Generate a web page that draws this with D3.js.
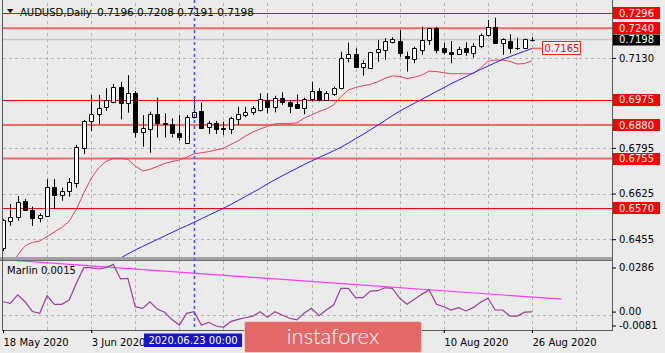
<!DOCTYPE html>
<html>
<head>
<meta charset="utf-8">
<script src="https://cdn.jsdelivr.net/npm/d3@7"></script>
<style>
body { margin: 0; background: #ebebeb; }
svg { display: block; font-family: "DejaVu Sans", sans-serif; }
</style>
</head>
<body>
<div id="chart"></div>
<script>
// AUDUSD daily, 18 May 2020 .. 26 Aug 2020 (one value per bar)
const opens = [0.6422,0.6522,0.6537,0.6597,0.6564,0.6533,0.6541,0.6650,0.6620,0.6636,
    0.6663,0.6793,0.6896,0.6921,0.6946,0.6967,0.7021,0.6961,0.6998,0.6855,
    0.6865,0.6921,0.6889,0.6884,0.6851,0.6814,0.6909,0.6932,0.6872,0.6887,
    0.6870,0.6865,0.6901,0.6917,0.6927,0.6936,0.6973,0.6948,0.6982,0.6967,
    0.6958,0.6942,0.6977,0.7008,0.6973,0.6994,0.7017,0.7128,0.7143,0.7095,
    0.7091,0.7153,0.7159,0.7190,0.7193,0.7138,0.7126,0.7159,0.7197,0.7240,
    0.7168,0.7151,0.7143,0.7166,0.7147,0.7175,0.7215,0.7246,0.7184,0.7194,
    0.7168,0.7168,0.7196];
const highs = [0.6530,0.6586,0.6616,0.6604,0.6576,0.6551,0.6678,0.6679,0.6647,0.6682,
    0.6806,0.6899,0.6992,0.6992,0.7017,0.7033,0.7041,0.7066,0.7007,0.6917,
    0.6930,0.6982,0.6924,0.6905,0.6917,0.6917,0.6976,0.6963,0.6895,0.6895,
    0.6893,0.6911,0.6948,0.6948,0.6951,0.6998,0.6998,0.6989,0.7002,0.6973,
    0.6994,0.6982,0.7041,0.7017,0.7007,0.7023,0.7153,0.7187,0.7166,0.7122,
    0.7153,0.7197,0.7203,0.7207,0.7234,0.7153,0.7172,0.7246,0.7242,0.7246,
    0.7187,0.7193,0.7172,0.7188,0.7184,0.7221,0.7271,0.7280,0.7203,0.7218,
    0.7205,0.7203,0.7208];
const lows = [0.6411,0.6505,0.6524,0.6561,0.6504,0.6518,0.6538,0.6566,0.6598,0.6613,
    0.6647,0.6772,0.6858,0.6883,0.6933,0.6961,0.6901,0.6926,0.6834,0.6799,
    0.6777,0.6834,0.6834,0.6834,0.6822,0.6812,0.6905,0.6865,0.6847,0.6847,
    0.6843,0.6847,0.6880,0.6909,0.6917,0.6930,0.6924,0.6927,0.6955,0.6924,
    0.6940,0.6920,0.6967,0.6967,0.6970,0.6989,0.7013,0.7114,0.7093,0.7064,
    0.7089,0.7116,0.7122,0.7184,0.7134,0.7079,0.7110,0.7141,0.7178,0.7147,
    0.7143,0.7110,0.7141,0.7138,0.7131,0.7166,0.7209,0.7184,0.7141,0.7147,
    0.7159,0.7163,0.7191];
const closes = [0.6526,0.6537,0.6595,0.6564,0.6535,0.6545,0.6650,0.6620,0.6634,0.6668,
    0.6797,0.6896,0.6921,0.6942,0.6972,0.7021,0.6963,0.7000,0.6855,0.6868,
    0.6921,0.6889,0.6884,0.6851,0.6834,0.6909,0.6930,0.6870,0.6887,0.6865,
    0.6865,0.6905,0.6920,0.6927,0.6945,0.6976,0.6948,0.6982,0.6967,0.6952,
    0.6942,0.6977,0.7008,0.6973,0.7000,0.7017,0.7131,0.7143,0.7097,0.7110,
    0.7151,0.7163,0.7193,0.7200,0.7147,0.7128,0.7166,0.7197,0.7240,0.7159,
    0.7151,0.7143,0.7163,0.7151,0.7175,0.7215,0.7246,0.7184,0.7199,0.7168,
    0.7166,0.7199,0.7198];

// moving averages (null = off screen)
const fastMa = [null,0.6348,0.6396,0.6430,0.6443,0.6448,0.6465,0.6482,0.6499,0.6521,
    0.6567,0.6627,0.6681,0.6720,0.6744,0.6756,0.6756,0.6752,0.6728,0.6709,
    0.6715,0.6726,0.6737,0.6744,0.6750,0.6760,0.6773,0.6777,0.6781,0.6787,
    0.6793,0.6808,0.6821,0.6839,0.6854,0.6865,0.6875,0.6884,0.6886,0.6886,
    0.6888,0.6906,0.6918,0.6930,0.6940,0.6955,0.6986,0.7010,0.7020,0.7026,
    0.7031,0.7041,0.7054,0.7063,0.7061,0.7053,0.7058,0.7066,0.7081,0.7079,
    0.7075,0.7071,0.7071,0.7071,0.7071,0.7092,0.7117,0.7122,0.7122,0.7117,
    0.7107,0.7109,0.7119];
const slowMa = [null,null,null,null,null,null,null,null,null,null,
    null,null,null,null,null,0.6372,0.6385,0.6400,0.6415,0.6428,
    0.6441,0.6454,0.6467,0.6480,0.6493,0.6505,0.6518,0.6531,0.6544,0.6557,
    0.6570,0.6584,0.6599,0.6614,0.6629,0.6644,0.6661,0.6676,0.6691,0.6705,
    0.6719,0.6733,0.6746,0.6759,0.6771,0.6784,0.6797,0.6813,0.6829,0.6845,
    0.6862,0.6879,0.6897,0.6915,0.6932,0.6947,0.6961,0.6976,0.6990,0.7005,
    0.7019,0.7034,0.7047,0.7060,0.7074,0.7087,0.7099,0.7112,0.7124,0.7135,
    0.7145,0.7155,0.7165];

// Marlin oscillator
const marlin = [0.0070,0.0061,0.0107,0.0070,0.0017,0.0007,0.0103,0.0056,0.0056,0.0079,
    0.0172,0.0255,0.0255,0.0248,0.0255,0.0273,0.0194,0.0197,0.0043,0.0034,
    0.0070,0.0030,0.0013,-0.0027,-0.0057,0.0007,0.0016,-0.0057,-0.0042,-0.0062,
    -0.0069,-0.0038,-0.0026,-0.0017,-0.0008,0.0016,-0.0015,0.0016,-0.0002,-0.0020,
    -0.0029,0.0009,0.0034,-0.0006,0.0025,0.0052,0.0143,0.0143,0.0092,0.0092,
    0.0128,0.0130,0.0146,0.0143,0.0089,0.0056,0.0083,0.0110,0.0134,0.0056,
    0.0043,0.0025,0.0038,0.0020,0.0038,0.0067,0.0089,0.0025,0.0025,-0.0008,
    -0.0008,0.0013,0.0015];
const marlinTrendBars = [2, 76];
const marlinTrendValues = [0.0293, 0.0084];

const strongLevels = [0.7296, 0.6975, 0.6570];
const softLevels = [0.7240, 0.6880, 0.6755];
const priceTicks = [0.7130, 0.6795, 0.6625, 0.6455];
const bidPrice = 0.7198;
const subTicks = [0.0286, 0, -0.0081];
const subTickLabels = ['0.0286', '0.00', '-0.0081'];

// date labels that are visible (the others sit under the cursor box and logo)
const tickBars = [0, 12, 60, 72];
const tickLabels = ['18 May 2020', '3 Jun 2020', '10 Aug 2020', '26 Aug 2020'];
const cursorBar = 26;
const cursorLabel = '2020.06.23 00:00';

const width = 665;
const height = 353;
const plotLeft = 3, plotRight = 612;
const mainTop = 3, mainBottom = 257;
const subTop = 261, subBottom = 330;
const barStep = 7.347;

const x = d3.scaleLinear().domain([0, 72]).range([3, 3 + 72 * barStep]);
const y = d3.scaleLinear().domain([0.6570, 0.7296]).range([208.3, 13.3]);
const ySub = d3.scaleLinear().domain([-0.0081, 0.0286]).range([329.5, 262]);

const svg = d3.select('#chart').append('svg')
    .attr('width', width)
    .attr('height', height);

svg.append('rect').attr('width', width).attr('height', height).attr('fill', '#ebebeb');

const defs = svg.append('defs');
defs.append('clipPath').attr('id', 'clipMain').append('rect')
    .attr('x', plotLeft).attr('y', mainTop).attr('width', plotRight - plotLeft).attr('height', mainBottom - mainTop);
defs.append('clipPath').attr('id', 'clipSub').append('rect')
    .attr('x', plotLeft).attr('y', subTop).attr('width', plotRight - plotLeft).attr('height', subBottom - subTop);

// grid
const grid = svg.append('g').attr('stroke', '#b4b4b4').attr('stroke-dasharray', '3,3');
grid.selectAll('line.v').data(d3.range(6, 84, 6)).join('line')
    .attr('x1', d => Math.round(x(d)) + 0.5).attr('x2', d => Math.round(x(d)) + 0.5)
    .attr('y1', mainTop).attr('y2', subBottom);
grid.selectAll('line.h').data(priceTicks).join('line')
    .attr('x1', plotLeft).attr('x2', plotRight)
    .attr('y1', d => Math.round(y(d)) + 0.5).attr('y2', d => Math.round(y(d)) + 0.5);
grid.append('line')
    .attr('x1', plotLeft).attr('x2', plotRight)
    .attr('y1', Math.round(ySub(0)) + 0.5).attr('y2', Math.round(ySub(0)) + 0.5);

const main = svg.append('g').attr('clip-path', 'url(#clipMain)');

// horizontal levels
main.selectAll('line.soft').data(softLevels).join('line')
    .attr('x1', plotLeft).attr('x2', plotRight)
    .attr('y1', d => y(d)).attr('y2', d => y(d))
    .attr('stroke', '#f06a6a').attr('stroke-width', 2);
main.selectAll('line.strong').data(strongLevels).join('line')
    .attr('x1', plotLeft).attr('x2', plotRight)
    .attr('y1', d => Math.round(y(d)) + 0.5).attr('y2', d => Math.round(y(d)) + 0.5)
    .attr('stroke', '#ff0000').attr('stroke-width', 1);
main.append('line')
    .attr('x1', plotLeft).attr('x2', plotRight)
    .attr('y1', y(bidPrice)).attr('y2', y(bidPrice))
    .attr('stroke', '#c4c4c4').attr('stroke-width', 1.5);

// moving averages
const maLine = d3.line().defined(d => d != null).x((d, i) => x(i)).y(d => y(d));
main.append('path').datum(fastMa).attr('d', maLine)
    .attr('fill', 'none').attr('stroke', '#e5405a').attr('stroke-width', 1);
main.append('path').datum(slowMa).attr('d', maLine)
    .attr('fill', 'none').attr('stroke', '#1f1fff').attr('stroke-width', 1);

// candles
const bars = opens.map((o, i) => ({ i, o, h: highs[i], l: lows[i], c: closes[i] }));
main.selectAll('line.wick').data(bars).join('line')
    .attr('x1', d => Math.round(x(d.i)) + 0.5).attr('x2', d => Math.round(x(d.i)) + 0.5)
    .attr('y1', d => y(d.h)).attr('y2', d => y(d.l))
    .attr('stroke', '#000').attr('stroke-width', 1);
main.selectAll('path.body').data(bars).join('path')
    .attr('d', d => {
        const cx = Math.round(x(d.i));
        const top = Math.round(y(Math.max(d.o, d.c))) + 0.5;
        const bot = Math.round(y(Math.min(d.o, d.c))) + 0.5;
        return `M${cx - 1.5},${top}H${cx + 2.5}V${bot}H${cx - 1.5}Z`;
    })
    .attr('fill', d => d.c >= d.o ? '#fff' : '#000')
    .attr('stroke', '#000').attr('stroke-width', 1);

// label for the slow MA at the last bar
const lastBar = slowMa.length - 1;
const maVal = slowMa[lastBar];
svg.append('line')
    .attr('x1', x(lastBar)).attr('x2', x(lastBar) + 10)
    .attr('y1', y(maVal)).attr('y2', y(maVal))
    .attr('stroke', '#f06a6a').attr('stroke-width', 1.5);
svg.append('rect')
    .attr('x', x(lastBar) + 10.5).attr('y', Math.round(y(maVal)) - 6.5)
    .attr('width', 38).attr('height', 13)
    .attr('fill', '#f4f4f4').attr('stroke', '#ff2020');
svg.append('text')
    .attr('x', x(lastBar) + 12.5).attr('y', y(maVal)).attr('dy', '0.36em')
    .attr('font-size', 10).attr('fill', '#ff0000')
    .text(d3.format('.4f')(maVal));

// Marlin panel
const sub = svg.append('g').attr('clip-path', 'url(#clipSub)');
const trendLine = d3.line().x(d => x(d[0])).y(d => ySub(d[1]));
sub.append('path')
    .datum(marlinTrendBars.map((b, i) => [b, marlinTrendValues[i]]))
    .attr('d', trendLine)
    .attr('fill', 'none').attr('stroke', '#ff33ff').attr('stroke-width', 1.2);
sub.append('path').datum(marlin)
    .attr('d', d3.line().x((d, i) => x(i)).y(d => ySub(d)))
    .attr('fill', 'none').attr('stroke', '#9c3c9c').attr('stroke-width', 1.2);

svg.append('text')
    .attr('x', 7).attr('y', 274)
    .attr('font-size', 10).attr('fill', '#000')
    .text('Marlin ' + d3.format('.4f')(marlin[marlin.length - 1]));

// panel separator and frame
svg.append('rect').attr('x', 0).attr('y', mainBottom).attr('width', plotRight + 1).attr('height', 4).attr('fill', '#a2a2a2');
svg.append('line').attr('x1', 0).attr('x2', plotRight + 1).attr('y1', 260.5).attr('y2', 260.5).attr('stroke', '#6a6a6a');
const frame = svg.append('g').attr('stroke', '#5a5a5a').attr('stroke-width', 1);
frame.append('line').attr('x1', 2.5).attr('x2', 2.5).attr('y1', 0).attr('y2', subBottom + 0.5);
frame.append('line').attr('x1', plotRight + 0.5).attr('x2', plotRight + 0.5).attr('y1', 0).attr('y2', subBottom + 0.5);
frame.append('line').attr('x1', 2).attr('x2', plotRight + 1).attr('y1', subBottom + 0.5).attr('y2', subBottom + 0.5);

// crosshair
svg.append('line')
    .attr('x1', Math.round(x(cursorBar)) + 0.5).attr('x2', Math.round(x(cursorBar)) + 0.5)
    .attr('y1', 0).attr('y2', subBottom)
    .attr('stroke', '#5252ee').attr('stroke-width', 1.6).attr('stroke-dasharray', '3,3');

// title
svg.append('path').attr('d', 'M7,9L13.5,9L10.25,13Z').attr('fill', '#000');
svg.append('text').attr('x', 20).attr('y', 16).attr('font-size', 10).text('AUDUSD,Daily');
svg.append('text').attr('x', 97).attr('y', 16).attr('font-size', 10.5)
    .text([opens[lastBar], highs[lastBar], lows[lastBar], closes[lastBar]].map(d3.format('.4f')).join(' '));

// right price axis
const yAxis = d3.axisRight(y).tickValues(priceTicks).tickSize(4).tickFormat(d3.format('.4f'));
svg.append('g')
    .attr('transform', `translate(${plotRight},0)`)
    .call(yAxis)
    .call(g => g.select('.domain').remove())
    .call(g => g.selectAll('text').attr('font-size', 10).attr('font-family', 'DejaVu Sans').attr('fill', '#000'))
    .call(g => g.selectAll('line').attr('stroke', '#000'));

const levelLabels = svg.append('g');
[...strongLevels, ...softLevels].forEach(v => {
    levelLabels.append('rect')
        .attr('x', plotRight + 1).attr('y', Math.round(y(v)) - 6)
        .attr('width', 47).attr('height', 12).attr('fill', '#ff0000');
    levelLabels.append('text')
        .attr('x', plotRight + 7).attr('y', y(v)).attr('dy', '0.36em')
        .attr('font-size', 10).attr('fill', '#fff')
        .text(d3.format('.4f')(v));
});
levelLabels.append('rect')
    .attr('x', plotRight + 1).attr('y', Math.round(y(bidPrice)) - 5.5)
    .attr('width', 47).attr('height', 11).attr('fill', '#000');
levelLabels.append('text')
    .attr('x', plotRight + 7).attr('y', y(bidPrice)).attr('dy', '0.36em')
    .attr('font-size', 10).attr('fill', '#fff')
    .text(d3.format('.4f')(bidPrice));

// right Marlin axis (top/bottom labels are pulled inside the panel)
const subAxis = d3.axisRight(ySub).tickValues(subTicks).tickSize(4).tickFormat((d, i) => subTickLabels[i]);
svg.append('g')
    .attr('transform', `translate(${plotRight},0)`)
    .call(subAxis)
    .call(g => g.select('.domain').remove())
    .call(g => g.selectAll('.tick').attr('transform', d => {
        const shift = d === subTicks[0] ? 6 : d === subTicks[2] ? -3.5 : -2.5;
        return `translate(0,${ySub(d) + shift})`;
    }))
    .call(g => g.selectAll('text').attr('font-size', 10).attr('font-family', 'DejaVu Sans').attr('fill', '#000'))
    .call(g => g.selectAll('line').attr('stroke', '#000'));

// bottom time axis
const xAxis = d3.axisBottom(x).tickValues(tickBars).tickSize(3).tickFormat((d, i) => tickLabels[i]);
svg.append('g')
    .attr('transform', `translate(0,${subBottom})`)
    .call(xAxis)
    .call(g => g.select('.domain').remove())
    .call(g => g.selectAll('text')
        .attr('text-anchor', 'start').attr('x', 0).attr('y', 9)
        .attr('font-size', 10).attr('font-family', 'DejaVu Sans').attr('fill', '#000'))
    .call(g => g.selectAll('line').attr('stroke', '#000'));

// crosshair date box
const cx = x(cursorBar);
svg.append('rect')
    .attr('x', cx - 50).attr('y', 333.5).attr('width', 98).attr('height', 13.5)
    .attr('fill', '#1616c8');
svg.append('text')
    .attr('x', cx - 1).attr('y', 340.5).attr('dy', '0.36em')
    .attr('text-anchor', 'middle').attr('font-size', 10).attr('fill', '#fff')
    .text(cursorLabel);

// watermark
svg.append('rect')
    .attr('x', 244.5).attr('y', 321.5).attr('width', 177).attr('height', 31).attr('rx', 2)
    .attr('fill', '#e46868').attr('stroke', '#f3c8c8');
svg.append('text')
    .attr('x', 333).attr('y', 344)
    .attr('text-anchor', 'middle')
    .attr('font-family', 'Lato, sans-serif').attr('font-weight', 300).attr('font-size', 22)
    .attr('fill', '#fff')
    .text('instaforex');
</script>
</body>
</html>
